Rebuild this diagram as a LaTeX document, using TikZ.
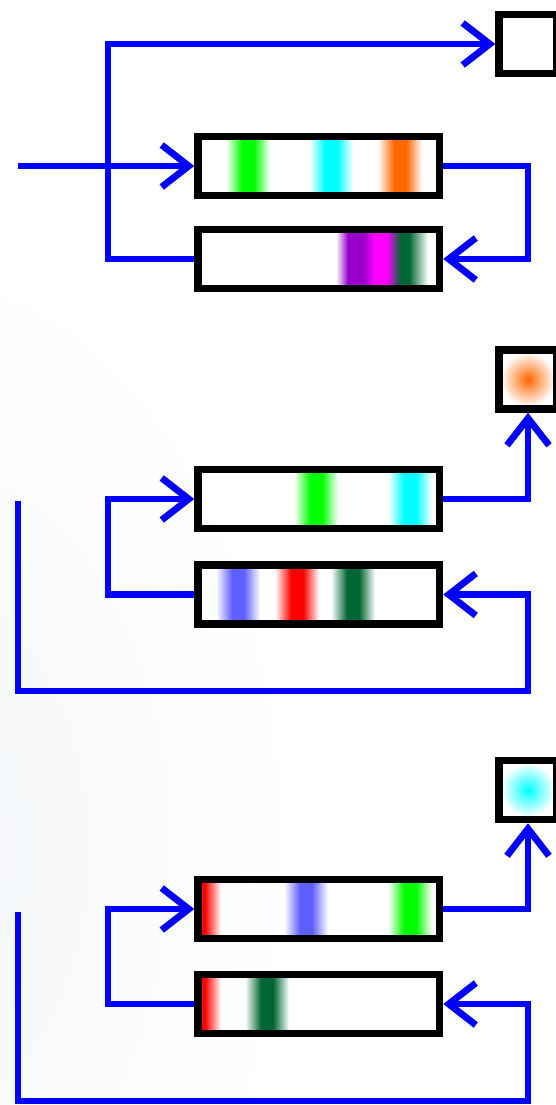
\documentclass[tikz,border=0pt]{standalone}
\usetikzlibrary{arrows.meta}
\definecolor{lnblue}{RGB}{0,0,255}
\definecolor{dkgreen}{RGB}{0,102,51}
\definecolor{orng}{RGB}{255,102,0}
\definecolor{purp}{RGB}{153,0,204}
\definecolor{mgnt}{RGB}{255,0,255}
\definecolor{cyn}{RGB}{0,255,255}
\definecolor{grn}{RGB}{0,255,0}
\definecolor{rd}{RGB}{255,0,0}
\definecolor{stblue}{RGB}{95,95,255}
\definecolor{bgc}{RGB}{242,245,248}
\tikzset{
  bar/.style={draw=black, line width=7.5pt, rectangle, inner sep=0pt,
    minimum width=241.5pt, minimum height=59pt},
  sq/.style={draw=black, line width=7.5pt, rectangle, inner sep=0pt,
    minimum width=58pt, minimum height=59pt},
  wire/.style={draw=lnblue, line width=6.8pt, line join=miter},
  arr/.style={wire, -{Straight Barb[length=27pt,width=42pt,line join=miter]}}
}
\newcommand\grad[4]{\shade[left color=#3,right color=#4] (#1,\ytop) rectangle (#2,\ybot);}
\newcommand\solid[3]{\fill[#3] (#1,\ytop) rectangle (#2,\ybot);}
\newcommand\stripe[2]{\grad{#1-22}{#1-6}{white}{#2}\solid{#1-6.2}{#1+6.2}{#2}\grad{#1+6}{#1+22}{#2}{white}}
\newcommand\redleft{\solid{202}{205}{rd}\grad{204.8}{221}{rd}{white}}
\begin{document}
\begin{tikzpicture}[x=1pt,y=-1pt]
\useasboundingbox (0,0) rectangle (556,1105);
\fill[white] (0,0) rectangle (556,1105);
\shade[inner color=bgc, outer color=white] (-460,250) rectangle (300,1450);
\fill[white] (300,0) rectangle (556,1105);

% ---------- section 1 ----------
\begin{scope}
\def\ytop{140}\def\ybot{192}
\clip (202,\ytop) rectangle (436,\ybot);
\stripe{248}{grn}
\stripe{331}{cyn}
\stripe{400}{orng}
\end{scope}
\begin{scope}
\def\ytop{233}\def\ybot{285}
\clip (202,\ytop) rectangle (436,\ybot);
\grad{336}{348}{white}{purp}
\solid{347.8}{364.2}{purp}
\grad{364}{374}{purp}{mgnt}
\solid{373.8}{387.2}{mgnt}
\grad{387}{400}{mgnt}{dkgreen}
\solid{399.8}{409.2}{dkgreen}
\grad{409}{428}{dkgreen}{white}
\end{scope}
\node[sq] (t0) at (528,44) {};
\node[bar] (a1) at (318.75,166) {};
\node[bar] (a2) at (318.75,259) {};
\coordinate (in1) at (18,166);
\coordinate (j1) at (108,44);
\draw[arr] (in1) -- (a1.west);
\draw[arr] (a2.west) -| (j1) -- (t0.west);
\draw[arr] (a1.east) -| (t0.center |- a2.east) -- (a2.east);

% ---------- section 2 ----------
\begin{scope}
\clip (503,353) rectangle (553,406);
\shade[inner color=orng, outer color=white] (528,379.5) circle (27);
\end{scope}
\begin{scope}
\def\ytop{472}\def\ybot{525}
\clip (202,\ytop) rectangle (436,\ybot);
\stripe{316}{grn}
\stripe{410}{cyn}
\end{scope}
\begin{scope}
\def\ytop{568}\def\ybot{621}
\clip (202,\ytop) rectangle (436,\ybot);
\stripe{238}{stblue}
\stripe{297}{rd}
\stripe{353}{dkgreen}
\end{scope}
\node[sq] (t1) at (528,379.5) {};
\node[bar] (b1) at (318.75,499) {};
\node[bar] (b2) at (318.75,594.5) {};
\coordinate (in2) at (18,501);
\coordinate (j2) at (108,499);
\coordinate (r2) at (528,691);
\draw[arr] (b1.east) -| (t1.south);
\draw[arr] (b2.west) -| (j2) -- (b1.west);
\draw[arr] (in2) |- (r2) |- (b2.east);

% ---------- section 3 ----------
\begin{scope}
\clip (503,764) rectangle (553,816);
\shade[inner color=cyn, outer color=white] (528,790) circle (27);
\end{scope}
\begin{scope}
\def\ytop{883}\def\ybot{935}
\clip (202,\ytop) rectangle (436,\ybot);
\redleft
\stripe{306}{stblue}
\stripe{410}{grn}
\end{scope}
\begin{scope}
\def\ytop{978}\def\ybot{1030}
\clip (202,\ytop) rectangle (436,\ybot);
\redleft
\stripe{267}{dkgreen}
\end{scope}
\node[sq] (t2) at (528,790) {};
\node[bar] (c1) at (318.75,909) {};
\node[bar] (c2) at (318.75,1004) {};
\coordinate (in3) at (18,912);
\coordinate (j3) at (108,909);
\coordinate (r3) at (528,1101);
\draw[arr] (c1.east) -| (t2.south);
\draw[arr] (c2.west) -| (j3) -- (c1.west);
\draw[arr] (in3) |- (r3) |- (c2.east);
\end{tikzpicture}
\end{document}
